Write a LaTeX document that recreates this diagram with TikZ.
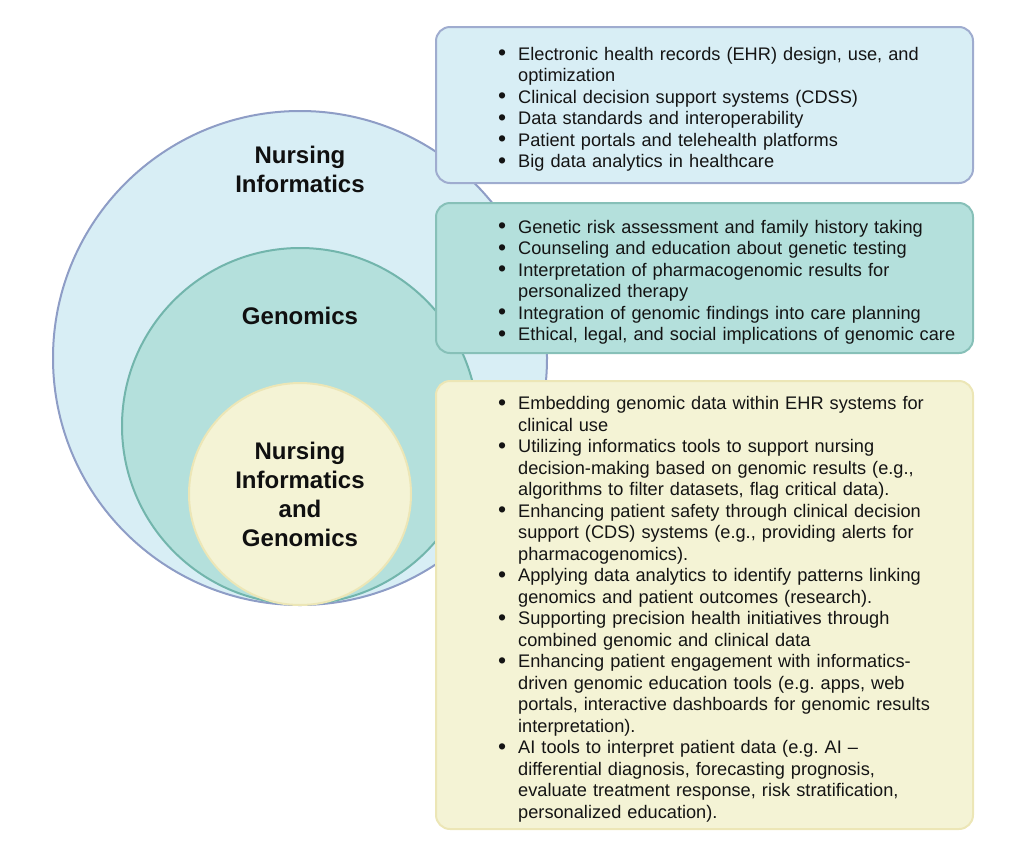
\documentclass[tikz,border=0pt]{standalone}
\usepackage{fontspec}
\setmainfont{Liberation Sans}
\usepackage{enumitem}
\usetikzlibrary{positioning}

\definecolor{niFill}{HTML}{D8EEF5}
\definecolor{niLine}{HTML}{8E9DC6}
\definecolor{genFill}{HTML}{B4E0DC}
\definecolor{genLine}{HTML}{72B5AC}
\definecolor{coreFill}{HTML}{F4F3D5}
\definecolor{coreLine}{HTML}{ECE6B6}
\definecolor{textDark}{HTML}{141414}
\definecolor{titleDark}{HTML}{101010}

\setlist[itemize]{leftmargin=20pt, labelsep=12pt, itemsep=0pt,
  parsep=0pt, topsep=0pt, partopsep=0pt,
  label={\raisebox{-0.8pt}{\fontsize{23}{23}\selectfont\textbullet}}}

\tikzset{
  ring/.style={circle, draw, line width=2pt, inner sep=0pt},
  infobox/.style={rectangle, rounded corners=14pt, draw, line width=2pt,
    inner sep=0pt, minimum width=537pt},
  itemlist/.style={inner sep=0pt, text width=470pt, align=left,
    font=\fontsize{18.2}{21.5}\selectfont\frenchspacing, text=textDark},
  ringtitle/.style={align=center, font=\fontsize{24}{29}\selectfont\bfseries,
    text=titleDark}
}

\begin{document}
\begin{tikzpicture}[x=1pt, y=-1pt]

  \useasboundingbox (0,0) rectangle (1024,849);

  % -- nested circles --
  \node[ring, fill=niFill, draw=niLine, minimum size=494pt] (nicircle) at (300,358) {};
  \node[ring, fill=genFill, draw=genLine, minimum size=356pt] (gencircle) at (300,426) {};
  \node[ring, fill=coreFill, draw=coreLine, minimum size=222pt] (corecircle) at (300,494) {};

  % circle titles
  \node[ringtitle] (nititle) at (300,169) {Nursing\\Informatics};
  \node[ringtitle] (gentitle) at (300,316) {Genomics};
  \node[ringtitle] (coretitle) at (corecircle.center) {Nursing\\Informatics\\and\\Genomics};

  % -- info boxes --
  \node[infobox, fill=niFill, draw=niLine!85!white, minimum height=156pt] (nibox) at (704.5,105) {};
  \node[infobox, fill=genFill, draw=genLine!85!white, minimum height=150pt] (genbox) at (704.5,278) {};
  \node[infobox, fill=coreFill, draw=coreLine, minimum height=448pt] (corebox) at (704.5,605) {};

  % box texts
  \node[itemlist, right=63pt of nibox.west] (nitext) {%
    \begin{itemize}
      \item Electronic health records (EHR) design, use, and\\optimization
      \item Clinical decision support systems (CDSS)
      \item Data standards and interoperability
      \item Patient portals and telehealth platforms
      \item Big data analytics in healthcare
    \end{itemize}};

  \node[itemlist, right=63pt of genbox.west] (gentext) {%
    \begin{itemize}
      \item Genetic risk assessment and family history taking
      \item Counseling and education about genetic testing
      \item Interpretation of pharmacogenomic results for\\personalized therapy
      \item Integration of genomic findings into care planning
      \item Ethical, legal, and social implications of genomic care
    \end{itemize}};

  \node[itemlist, right=63pt of corebox.west] (coretext) {%
    \begin{itemize}
      \item Embedding genomic data within EHR systems for\\clinical use
      \item Utilizing informatics tools to support nursing\\decision-making based on genomic results (e.g.,\\algorithms to filter datasets, flag critical data).
      \item Enhancing patient safety through clinical decision\\support (CDS) systems (e.g., providing alerts for\\pharmacogenomics).
      \item Applying data analytics to identify patterns linking\\genomics and patient outcomes (research).
      \item Supporting precision health initiatives through\\combined genomic and clinical data
      \item Enhancing patient engagement with informatics-\\driven genomic education tools (e.g. apps, web\\portals, interactive dashboards for genomic results\\interpretation).
      \item AI tools to interpret patient data (e.g. AI --\\differential diagnosis, forecasting prognosis,\\evaluate treatment response, risk stratification,\\personalized education).
    \end{itemize}};

\end{tikzpicture}
\end{document}
